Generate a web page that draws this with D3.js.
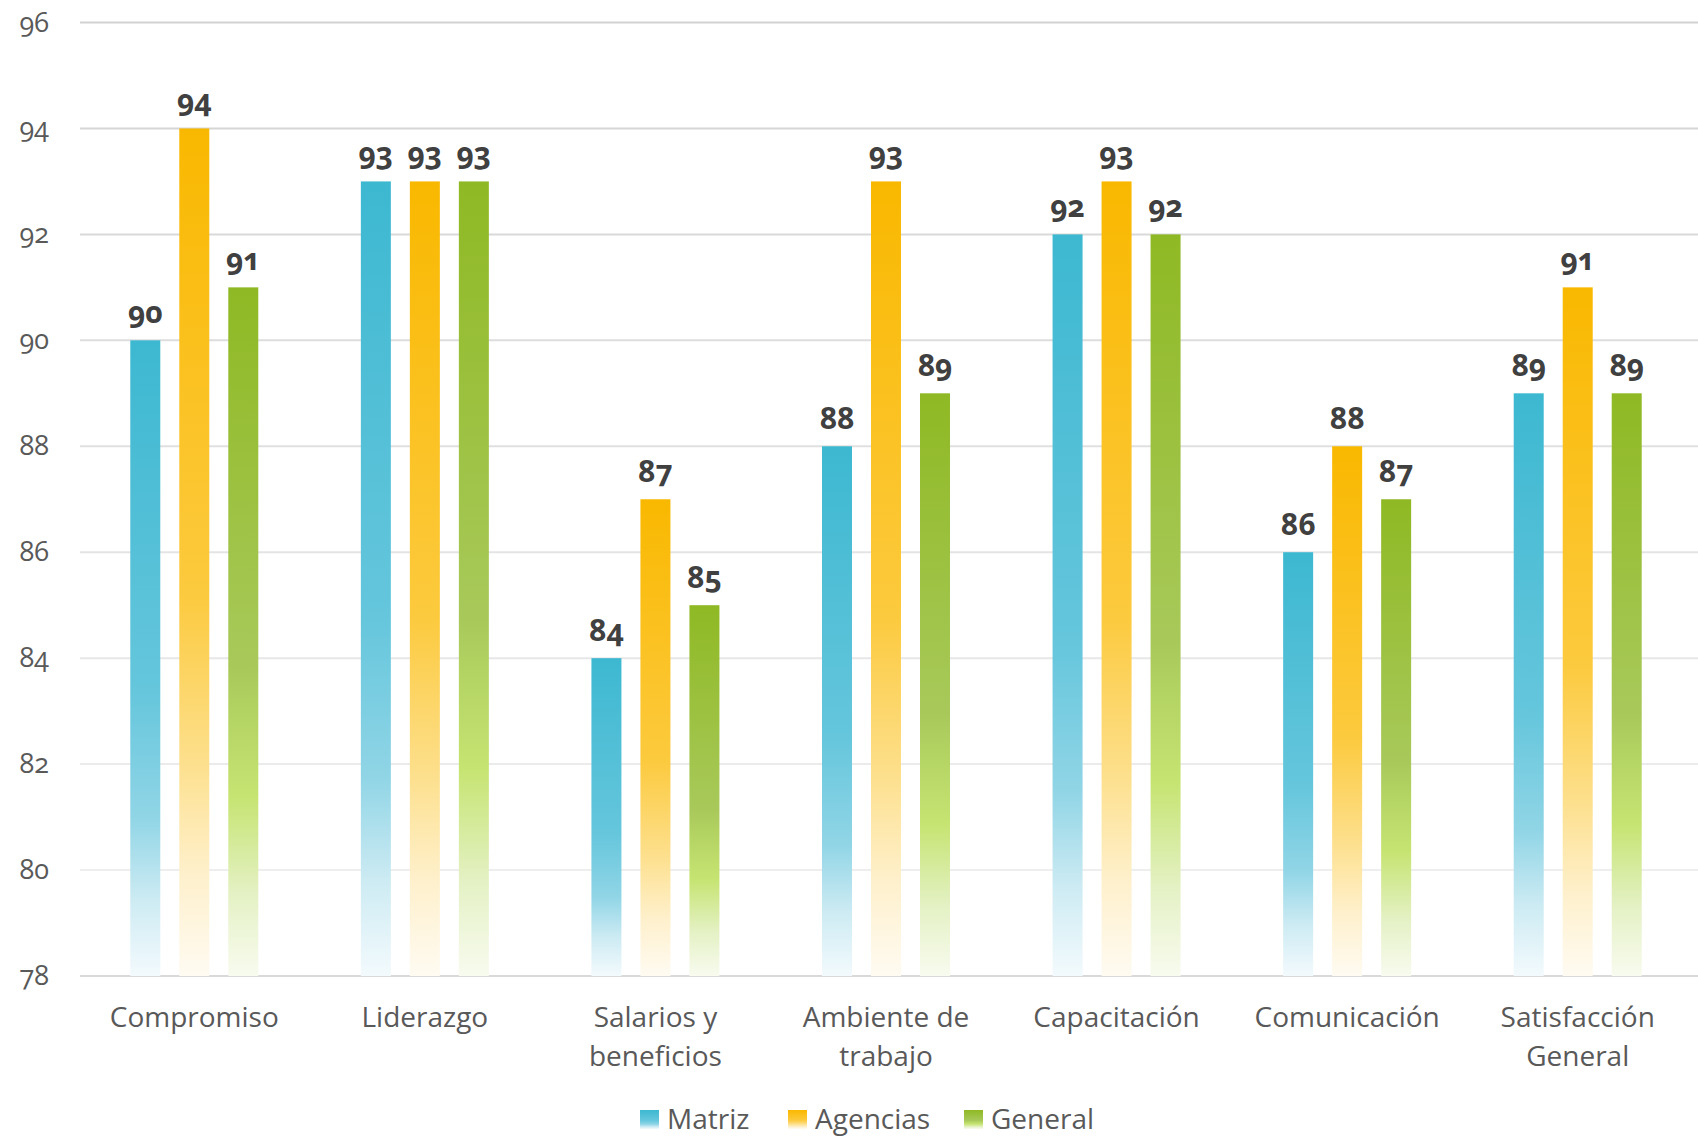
<!DOCTYPE html>
<html><head><meta charset="utf-8">
<script src="https://cdn.jsdelivr.net/npm/d3@7"></script>
<style>
html,body{margin:0;padding:0;background:#fff;}
svg{display:block;font-family:"Open Sans",sans-serif;}
.num{font-variant-numeric:oldstyle-nums;font-feature-settings:"onum" 1;}
</style></head>
<body><svg id="chart" width="1698" height="1137"></svg>
<script>
const categories = ["Compromiso","Liderazgo","Salarios y beneficios","Ambiente de trabajo","Capacitación","Comunicación","Satisfacción General"];
const categoryLines = [["Compromiso"],["Liderazgo"],["Salarios y","beneficios"],["Ambiente de","trabajo"],["Capacitación"],["Comunicación"],["Satisfacción","General"]];
const seriesNames = ["Matriz","Agencias","General"];
const matriz   = [90,93,84,88,92,86,89];
const agencias = [94,93,87,93,93,88,91];
const general  = [91,93,85,89,92,87,89];
const yTicks = [78,80,82,84,86,88,90,92,94,96];

const seriesValues = [matriz, agencias, general];
const gradStops = [
  [["0%","#3db8d1"],["55%","#65c6dc"],["75%","#90d5e6"],["88%","#cdebf3"],["100%","#f3fafd"]],
  [["0%","#f9b800"],["55%","#fcca3e"],["75%","#fde08e"],["88%","#fef0cc"],["100%","#fffbf2"]],
  [["0%","#8fb924"],["55%","#a8c95a"],["74%","#c6e472"],["88%","#e4f1c4"],["100%","#f8fbef"]]
];

const svg = d3.select("#chart");
const W = 1698, H = 1137;
const x0 = d3.scaleBand().domain(categories).range([79, 1693]).paddingInner(0).paddingOuter(0);
const y = d3.scaleLinear().domain([78,96]).range([976, 22.5]);
const barW = 30, step = 49;

const defs = svg.append("defs");
seriesNames.forEach((s,i)=>{
  const g = defs.append("linearGradient").attr("id","g"+i).attr("x1",0).attr("y1",0).attr("x2",0).attr("y2",1);
  gradStops[i].forEach(st=>g.append("stop").attr("offset",st[0]).attr("stop-color",st[1]));
});

// gridlines
const gridCol = d3.scaleLinear().domain([80,96]).range(["#eeeeee","#d2d2d2"]);
svg.append("g").selectAll("line").data(yTicks).join("line")
  .attr("x1",80).attr("x2",W)
  .attr("y1",d=>y(d)).attr("y2",d=>y(d))
  .attr("stroke",d=>d===78?"#d9d9d9":gridCol(d)).attr("stroke-width",2);

// y tick labels
svg.append("g").selectAll("text").data(yTicks).join("text")
  .attr("class","num")
  .attr("x",49).attr("y",d=>y(d)+9)
  .attr("text-anchor","end").attr("font-size",27).attr("fill","#595959")
  .text(d=>d);

// bars
const groups = svg.append("g").selectAll("g").data(categories).join("g");
seriesNames.forEach((s,si)=>{
  groups.append("rect")
    .attr("x",(d,ci)=>x0(d)+x0.bandwidth()/2 + (si-1)*step - barW/2)
    .attr("width",barW)
    .attr("y",(d,ci)=>y(seriesValues[si][ci]))
    .attr("height",(d,ci)=>y(78)-y(seriesValues[si][ci]))
    .attr("fill","url(#g"+si+")");
  groups.append("text")
    .attr("class","num")
    .attr("x",(d,ci)=>x0(d)+x0.bandwidth()/2 + (si-1)*step)
    .attr("y",(d,ci)=>y(seriesValues[si][ci])-17)
    .attr("text-anchor","middle").attr("font-size",30).attr("font-weight",700).attr("fill","#404040")
    .text((d,ci)=>seriesValues[si][ci]);
});

// category labels
groups.each(function(d,ci){
  const cx = x0(d)+x0.bandwidth()/2;
  const t = d3.select(this).append("text")
    .attr("x",cx).attr("y",1027)
    .attr("text-anchor","middle").attr("font-size",28).attr("fill","#595959");
  categoryLines[ci].forEach((ln,li)=>t.append("tspan").attr("x",cx).attr("dy",li?39:0).text(ln));
});

// legend
const legendX = [640,788,964];
const lg = svg.append("g").selectAll("g").data(seriesNames).join("g")
  .attr("transform",(d,i)=>`translate(${legendX[i]},0)`);
lg.append("rect").attr("x",0).attr("y",1110).attr("width",19).attr("height",19).attr("fill",(d,i)=>"url(#g"+i+")");
lg.append("text").attr("x",27).attr("y",1129).attr("font-size",28).attr("fill","#595959").text(d=>d);
</script></body></html>
